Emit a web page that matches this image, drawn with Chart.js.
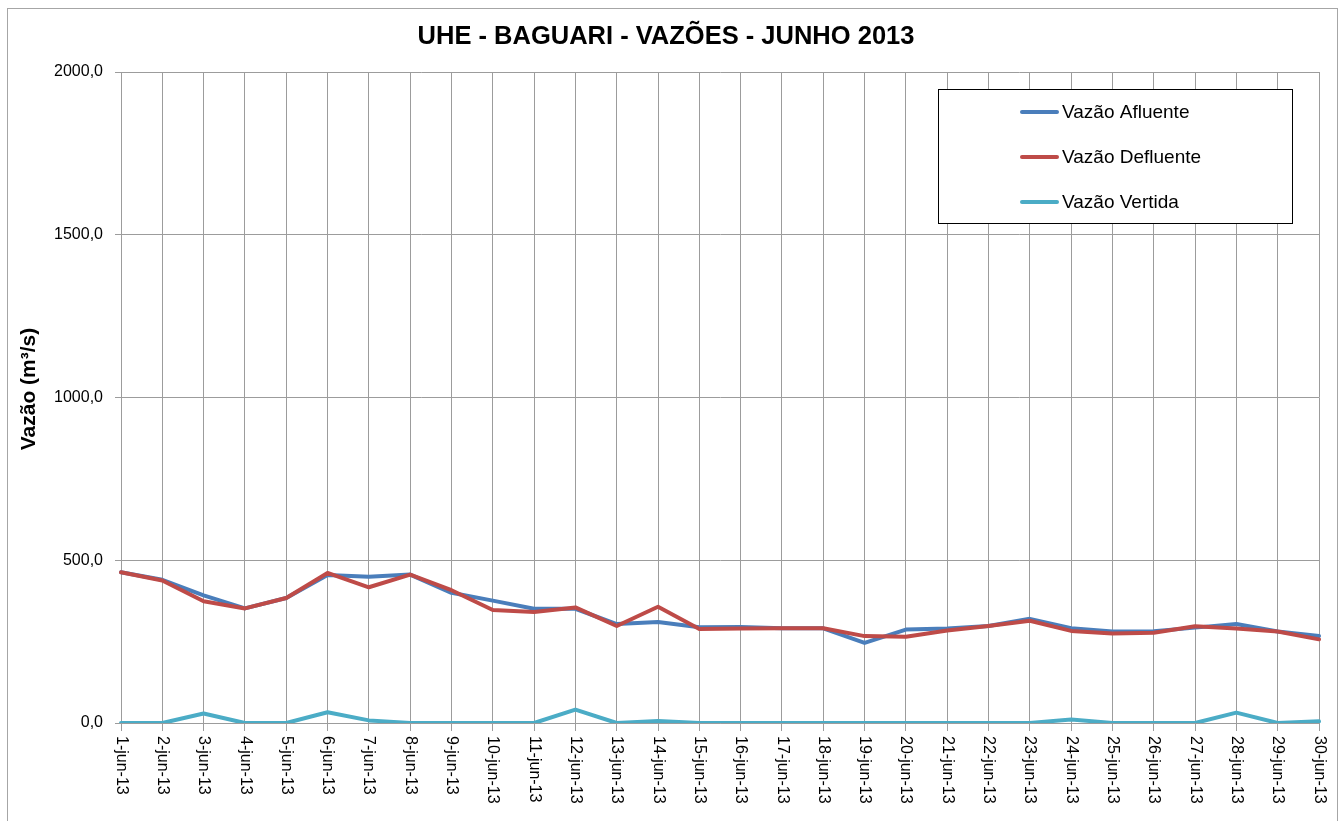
<!DOCTYPE html>
<html>
<head>
<meta charset="utf-8">
<title>UHE - BAGUARI - VAZÕES - JUNHO 2013</title>
<script src="https://cdn.jsdelivr.net/npm/chart.js@4.4.1/dist/chart.umd.min.js"></script>
<style>
  html, body { margin: 0; padding: 0; background: #fff; }
  #wrap { width: 1343px; height: 821px; position: relative; }
</style>
</head>
<body>
<div id="wrap"><canvas id="chart"></canvas></div>
<script>
// data
const days = ['1-jun-13','2-jun-13','3-jun-13','4-jun-13','5-jun-13','6-jun-13','7-jun-13','8-jun-13','9-jun-13','10-jun-13',
  '11-jun-13','12-jun-13','13-jun-13','14-jun-13','15-jun-13','16-jun-13','17-jun-13','18-jun-13','19-jun-13','20-jun-13',
  '21-jun-13','22-jun-13','23-jun-13','24-jun-13','25-jun-13','26-jun-13','27-jun-13','28-jun-13','29-jun-13','30-jun-13'];
const afluente  = [463, 440, 392, 352, 384, 455, 449, 456, 400, 376, 351, 351, 304, 310, 294, 295, 291, 291, 246, 287, 290, 298, 320, 291, 281, 282, 293, 304, 281, 267];
const defluente = [463, 438, 374, 352, 384, 461, 417, 456, 408, 347, 341, 355, 298, 357, 289, 290, 291, 291, 267, 265, 284, 298, 314, 283, 275, 277, 297, 290, 281, 257];
const vertida   = [0, 0, 29, 0, 0, 33, 8, 0, 0, 0, 0, 41, 0, 6, 0, 0, 0, 0, 0, 0, 0, 0, 0, 11, 0, 0, 0, 32, 0, 5];
const yTicks = [0, 500, 1000, 1500, 2000];

const seriesNames = ['Vazão Afluente', 'Vazão Defluente', 'Vazão Vertida'];
const seriesColors = ['#4a7ebb', '#be4b48', '#4bacc6'];

const FONT = '"Liberation Sans", Arial, sans-serif';
const GRID = '#9c9c9c';

// frame, title, y title, rotated x labels and the boxed legend
const decor = {
  id: 'decor',
  beforeDraw(chart) {
    const ctx = chart.ctx;
    ctx.save();
    ctx.fillStyle = '#fff';
    ctx.fillRect(0, 0, chart.width, chart.height);
    ctx.strokeStyle = '#a6a6a6';
    ctx.lineWidth = 1;
    ctx.strokeRect(7.5, 8.5, 1330, 900);
    ctx.restore();
  },
  afterDraw(chart) {
    const ctx = chart.ctx;
    const x = chart.scales.x;
    ctx.save();
    ctx.fillStyle = '#000';

    // title
    ctx.font = 'bold 25.5px ' + FONT;
    ctx.textAlign = 'center';
    ctx.textBaseline = 'alphabetic';
    ctx.fillText('UHE - BAGUARI - VAZÕES - JUNHO 2013', 666, 43.5);

    // y axis title
    ctx.save();
    ctx.translate(29, 389);
    ctx.rotate(-Math.PI / 2);
    ctx.font = 'bold 21px ' + FONT;
    ctx.textBaseline = 'middle';
    ctx.fillText('Vazão (m³/s)', 0, 0);
    ctx.restore();

    // x labels, turned clockwise
    ctx.font = '16px ' + FONT;
    ctx.textAlign = 'left';
    ctx.textBaseline = 'middle';
    days.forEach((d, i) => {
      const px = x.getPixelForTick(i);
      ctx.save();
      ctx.translate(px, 736);
      ctx.rotate(Math.PI / 2);
      ctx.fillText(d, 0, 0);
      ctx.restore();
    });

    // legend
    ctx.fillStyle = '#fff';
    ctx.fillRect(938.5, 89.5, 354, 134);
    ctx.strokeStyle = '#000';
    ctx.lineWidth = 1;
    ctx.strokeRect(938.5, 89.5, 354, 134);
    ctx.font = '19px ' + FONT;
    ctx.textAlign = 'left';
    ctx.textBaseline = 'middle';
    [112, 157, 202].forEach((ry, i) => {
      ctx.strokeStyle = seriesColors[i];
      ctx.lineWidth = 4;
      ctx.lineCap = 'round';
      ctx.beginPath();
      ctx.moveTo(1022, ry);
      ctx.lineTo(1057, ry);
      ctx.stroke();
      ctx.fillStyle = '#000';
      ctx.fillText(seriesNames[i], 1062, ry + 1);
    });
    ctx.restore();
  }
};

const mk = (i, data, order) => ({
  label: seriesNames[i],
  data: data,
  borderColor: seriesColors[i],
  backgroundColor: seriesColors[i],
  borderWidth: 4,
  borderJoinStyle: 'round',
  borderCapStyle: 'round',
  pointRadius: 0,
  tension: 0,
  order: order
});

new Chart(document.getElementById('chart'), {
  type: 'line',
  data: {
    labels: days,
    datasets: [mk(0, afluente, 3), mk(1, defluente, 2), mk(2, vertida, 1)]
  },
  options: {
    responsive: true,
    maintainAspectRatio: false,
    animation: false,
    layout: { padding: { top: 72, right: 24, left: 0, bottom: 0 } },
    plugins: {
      legend: { display: false },
      title: { display: false },
      tooltip: { enabled: false }
    },
    scales: {
      x: {
        type: 'category',
        offset: false,
        grid: { color: GRID, lineWidth: 1, drawTicks: true, tickLength: 8 },
        border: { color: GRID },
        ticks: { display: false },
        afterFit(s) { s.height = 98; }
      },
      y: {
        min: 0,
        max: 2000,
        afterBuildTicks(s) { s.ticks = yTicks.map(v => ({ value: v })); },
        grid: { color: GRID, lineWidth: 1, drawTicks: true, tickLength: 6 },
        border: { color: GRID },
        ticks: {
          color: '#000',
          padding: 12,
          font: { family: FONT, size: 16 },
          callback: v => v.toFixed(1).replace('.', ',')
        },
        afterFit(s) { s.width = 121; }
      }
    }
  },
  plugins: [decor]
});
</script>
</body>
</html>
